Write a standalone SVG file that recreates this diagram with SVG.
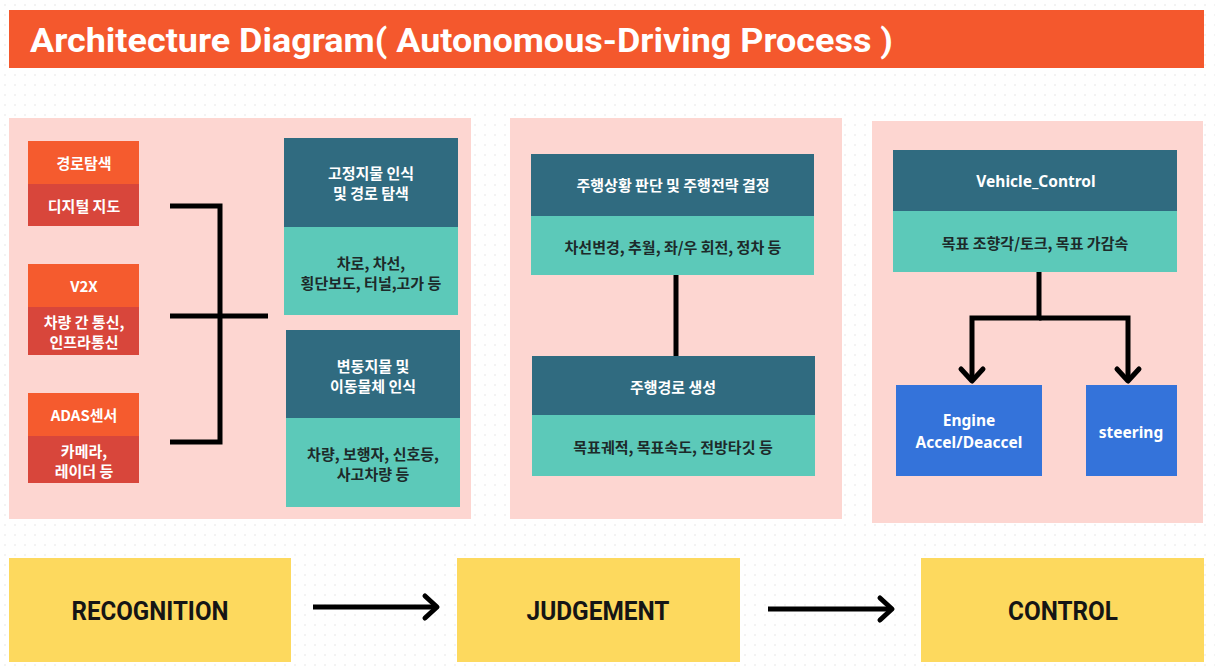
<svg xmlns="http://www.w3.org/2000/svg" width="1215" height="670" viewBox="0 0 1215 670">
<style>
.kr{font-family:"Noto Sans CJK KR","Noto Sans",sans-serif;font-weight:700;font-size:15px;text-anchor:middle;dominant-baseline:central}
.w{fill:#ffffff}
.d{fill:#1d2a2a}
.lat{font-family:"Noto Sans","Liberation Sans",sans-serif;font-weight:700;font-size:15.5px;text-anchor:middle;dominant-baseline:central;fill:#ffffff}
.title{font-family:"Roboto","Liberation Sans",sans-serif;font-weight:700;font-size:34px;fill:#ffffff}
.stage{font-family:"Roboto","Liberation Sans",sans-serif;font-weight:700;font-size:25px;fill:#151515;text-anchor:middle;dominant-baseline:central}
.panel{fill:#fdd6d1}
.org{fill:#f55b2e}
.red{fill:#d8463b}
.teal{fill:#306b80}
.turq{fill:#5cc9b9}
.blue{fill:#3473da}
.yel{fill:#fdd95e}
.conn{fill:none;stroke:#000;stroke-width:5;stroke-linejoin:miter}
</style>
<defs>
<pattern id="dots" width="10" height="10" patternUnits="userSpaceOnUse">
<circle cx="5" cy="5" r="0.8" fill="#e4e4e4"/>
</pattern>
<marker id="chev" markerUnits="userSpaceOnUse" viewBox="-18 -16 22 32" markerWidth="22" markerHeight="32" refX="0" refY="0" orient="auto">
<path d="M-12,-11 L0,0 L-12,11" fill="none" stroke="#000" stroke-width="5" stroke-linecap="round" stroke-linejoin="round"/>
</marker>
</defs>
<rect width="1215" height="670" fill="#ffffff"/>
<rect width="1215" height="670" fill="url(#dots)"/>

<g id="title">
<rect x="9" y="10" width="1195" height="58" fill="#f4582d"/>
<text class="title" x="30" y="52" textLength="863" lengthAdjust="spacingAndGlyphs">Architecture Diagram( Autonomous-Driving Process )</text>
</g>

<g id="panel-recognition"><rect class="panel" x="9" y="118" width="462" height="401"/></g>
<g id="panel-judgement"><rect class="panel" x="510" y="118" width="332" height="401"/></g>
<g id="panel-control"><rect class="panel" x="872" y="121" width="331" height="402"/></g>

<g id="node-route">
<rect class="org" x="28" y="141" width="111" height="43"/>
<rect class="red" x="28" y="184" width="111" height="42"/>
<text class="kr w" x="84" y="162">경로탐색</text>
<text class="kr w" x="84" y="205">디지털 지도</text>
</g>
<g id="node-v2x">
<rect class="org" x="28" y="264" width="111" height="43"/>
<rect class="red" x="28" y="307" width="111" height="48"/>
<text class="kr w" x="84" y="285">V2X</text>
<text class="kr w" x="84" y="321">차량 간 통신,</text>
<text class="kr w" x="84" y="341">인프라통신</text>
</g>
<g id="node-adas">
<rect class="org" x="28" y="393" width="111" height="43"/>
<rect class="red" x="28" y="436" width="111" height="47"/>
<text class="kr w" x="84" y="414">ADAS센서</text>
<text class="kr w" x="84" y="450">카메라,</text>
<text class="kr w" x="84" y="470">레이더 등</text>
</g>

<g id="node-static">
<rect class="teal" x="284" y="138" width="174" height="89"/>
<rect class="turq" x="284" y="227" width="174" height="88"/>
<text class="kr w" x="371" y="172">고정지물 인식</text>
<text class="kr w" x="371" y="192">및 경로 탐색</text>
<text class="kr d" x="371" y="262">차로, 차선,</text>
<text class="kr d" x="371" y="282">횡단보도, 터널,고가 등</text>
</g>
<g id="node-dynamic">
<rect class="teal" x="286" y="330" width="174" height="88"/>
<rect class="turq" x="286" y="418" width="174" height="89"/>
<text class="kr w" x="373" y="365">변동지물 및</text>
<text class="kr w" x="373" y="385">이동물체 인식</text>
<text class="kr d" x="373" y="453">차량, 보행자, 신호등,</text>
<text class="kr d" x="373" y="473">사고차량 등</text>
</g>

<g id="node-strategy">
<rect class="teal" x="531" y="154" width="283" height="62"/>
<rect class="turq" x="531" y="216" width="283" height="59"/>
<text class="kr w" x="673" y="184">주행상황 판단 및 주행전략 결정</text>
<text class="kr d" x="673" y="246">차선변경, 추월, 좌/우 회전, 정차 등</text>
</g>
<g id="node-path">
<rect class="teal" x="532" y="356" width="283" height="59"/>
<rect class="turq" x="532" y="415" width="283" height="61"/>
<text class="kr w" x="673" y="386">주행경로 생성</text>
<text class="kr d" x="673" y="446">목표궤적, 목표속도, 전방타깃 등</text>
</g>

<g id="node-vehicle-control">
<rect class="teal" x="893" y="150" width="284" height="61"/>
<rect class="turq" x="893" y="211" width="284" height="61"/>
<text class="lat" x="1036" y="181" style="font-size:15.5px">Vehicle_Control</text>
<text class="kr d" x="1035" y="242">목표 조향각/토크, 목표 가감속</text>
</g>
<g id="node-engine">
<rect class="blue" x="896" y="385" width="146" height="91"/>
<text class="lat" x="969" y="420">Engine</text>
<text class="lat" x="969" y="442">Accel/Deaccel</text>
</g>
<g id="node-steering">
<rect class="blue" x="1086" y="385" width="91" height="91"/>
<text class="lat" x="1131" y="432">steering</text>
</g>

<g id="stage-recognition">
<rect class="yel" x="9" y="558" width="282" height="104"/>
<text class="stage" x="150" y="611" textLength="157" lengthAdjust="spacingAndGlyphs">RECOGNITION</text>
</g>
<g id="stage-judgement">
<rect class="yel" x="457" y="558" width="283" height="104"/>
<text class="stage" x="598" y="611" textLength="143" lengthAdjust="spacingAndGlyphs">JUDGEMENT</text>
</g>
<g id="stage-control">
<rect class="yel" x="921" y="558" width="283" height="104"/>
<text class="stage" x="1063" y="611" textLength="110" lengthAdjust="spacingAndGlyphs">CONTROL</text>
</g>

<g id="connectors">
<path class="conn" d="M170,206 H220 V442 H170"/>
<path class="conn" d="M170,316 H268"/>
<path class="conn" d="M676,275 V356"/>
<path class="conn" d="M1039,272 V318 H972 V381" marker-end="url(#chev)"/>
<path class="conn" d="M1039,318 H1128 V381" marker-end="url(#chev)"/>
<path class="conn" d="M313,607 H437" marker-end="url(#chev)"/>
<path class="conn" d="M768,609 H892" marker-end="url(#chev)"/>
</g>
</svg>
